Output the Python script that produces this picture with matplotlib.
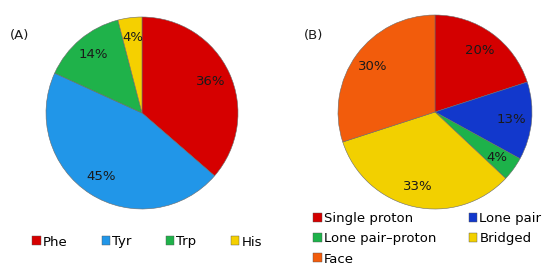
import matplotlib
matplotlib.use('Agg')
import matplotlib.pyplot as plt
from matplotlib.patches import Patch

plt.rcParams['font.family'] = ['DejaVu Sans']

# --- Data ---
labels_a = ['Phe', 'Tyr', 'Trp', 'His']
values_a = [36, 45, 14, 4]
colors_a = ['#D60000', '#2196E8', '#1FB24A', '#F5D000']

labels_b = ['Single proton', 'Lone pair', 'Lone pair\u2013proton', 'Bridged', 'Face']
values_b = [20, 13, 4, 33, 30]
colors_b = ['#D40000', '#1238CC', '#1DB24A', '#F2D000', '#F25C0C']

W, H = 545, 266
fig = plt.figure(figsize=(W / 100, H / 100), dpi=100)
fig.patch.set_facecolor('white')


def px_axes(cx, cy, r):
    # axes box in pixel coordinates, centred on the pie
    pad = r * 1.05
    return fig.add_axes([(cx - pad) / W, (H - cy - pad) / H, 2 * pad / W, 2 * pad / H])


def draw_pie(ax, vals, cols):
    total = sum(vals)
    wedges, _, autotexts = ax.pie(
        vals, colors=cols, startangle=90, counterclock=False,
        autopct=lambda p: f'{p * total / 100:.0f}%', pctdistance=0.79,
        wedgeprops=dict(edgecolor='#6a6a6a', linewidth=0.4),
        textprops=dict(fontsize=9.5, color='#1a1a1a'))
    ax.set_xlim(-1.05, 1.05)
    ax.set_ylim(-1.05, 1.05)
    ax.set_aspect('equal')
    return wedges


ax_a = px_axes(142, 113, 96)
wa = draw_pie(ax_a, values_a, colors_a)
ax_b = px_axes(435, 112, 97)
wb = draw_pie(ax_b, values_b, colors_b)

fig.text(10 / W, 1 - 35 / H, '(A)', fontsize=9.5, va='center', ha='left', color='#1a1a1a')
fig.text(304 / W, 1 - 35 / H, '(B)', fontsize=9.5, va='center', ha='left', color='#1a1a1a')

# legends
hand_a = [Patch(facecolor=c, edgecolor='#555555', linewidth=0.3) for c in colors_a]
fig.legend(hand_a, labels_a, loc='center left', bbox_to_anchor=(32 / W, 1 - 242 / H),
           ncol=4, frameon=False, fontsize=9.5, handlelength=0.65, handleheight=0.65,
           handletextpad=0.15, columnspacing=2.6, borderpad=0, borderaxespad=0)

# matplotlib fills legend columns first; reorder so entries read row by row
order_b = [0, 2, 4, 1, 3]
hand_b = [Patch(facecolor=colors_b[i], edgecolor='#555555', linewidth=0.3) for i in order_b]
fig.legend(hand_b, [labels_b[i] for i in order_b], loc='upper left',
           bbox_to_anchor=(313 / W, 1 - 212 / H),
           ncol=2, frameon=False, fontsize=9.5, handlelength=0.65, handleheight=0.65,
           handletextpad=0.15, columnspacing=2.5, labelspacing=0.55, borderpad=0,
           borderaxespad=0)

fig.savefig('out.png', dpi=100, facecolor='white')
